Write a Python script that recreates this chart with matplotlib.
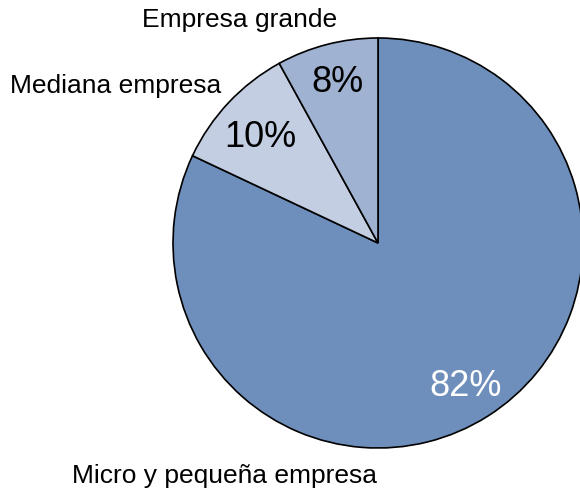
import matplotlib.pyplot as plt

plt.rcParams['font.family'] = ['Liberation Sans', 'DejaVu Sans']

# data
labels = ["Micro y pequeña empresa", "Mediana empresa", "Empresa grande"]
shares = [82, 10, 8]
colors = ["#6e8fbb", "#c3cee2", "#9fb2d1"]
pct_colors = ["white", "black", "black"]

W, H = 580, 492
fig = plt.figure(figsize=(W / 100, H / 100), dpi=100)
ax = fig.add_axes([0, 0, 1, 1])

cx, cy, r = 378, H - 243, 205
wedges, texts, autotexts = ax.pie(
    shares, colors=colors, startangle=90, counterclock=False,
    center=(cx, cy), radius=r, frame=True,
    autopct=lambda p: f"{p:.0f}%", pctdistance=0.8,
    wedgeprops=dict(edgecolor="black", linewidth=1.2),
    textprops=dict(fontsize=26),
)
ax.set_xlim(0, W)
ax.set_ylim(0, H)
ax.set_aspect("equal")
ax.axis("off")
# nudge the percentages to where the original has them
nudges = [(0, -5), (2, -7), (0, 2)]
for t, c, (dx, dy) in zip(autotexts, pct_colors, nudges):
    t.set_color(c)
    x, y = t.get_position()
    t.set_position((x + dx, y + dy))

# outer labels (placed like the original)
label_pos = [(224, H - 476), (116, H - 86), (240, H - 20)]
for lab, (x, y) in zip(labels, label_pos):
    ax.text(x, y, lab, ha="center", va="center", fontsize=19)

fig.savefig("out.png", dpi=100)
